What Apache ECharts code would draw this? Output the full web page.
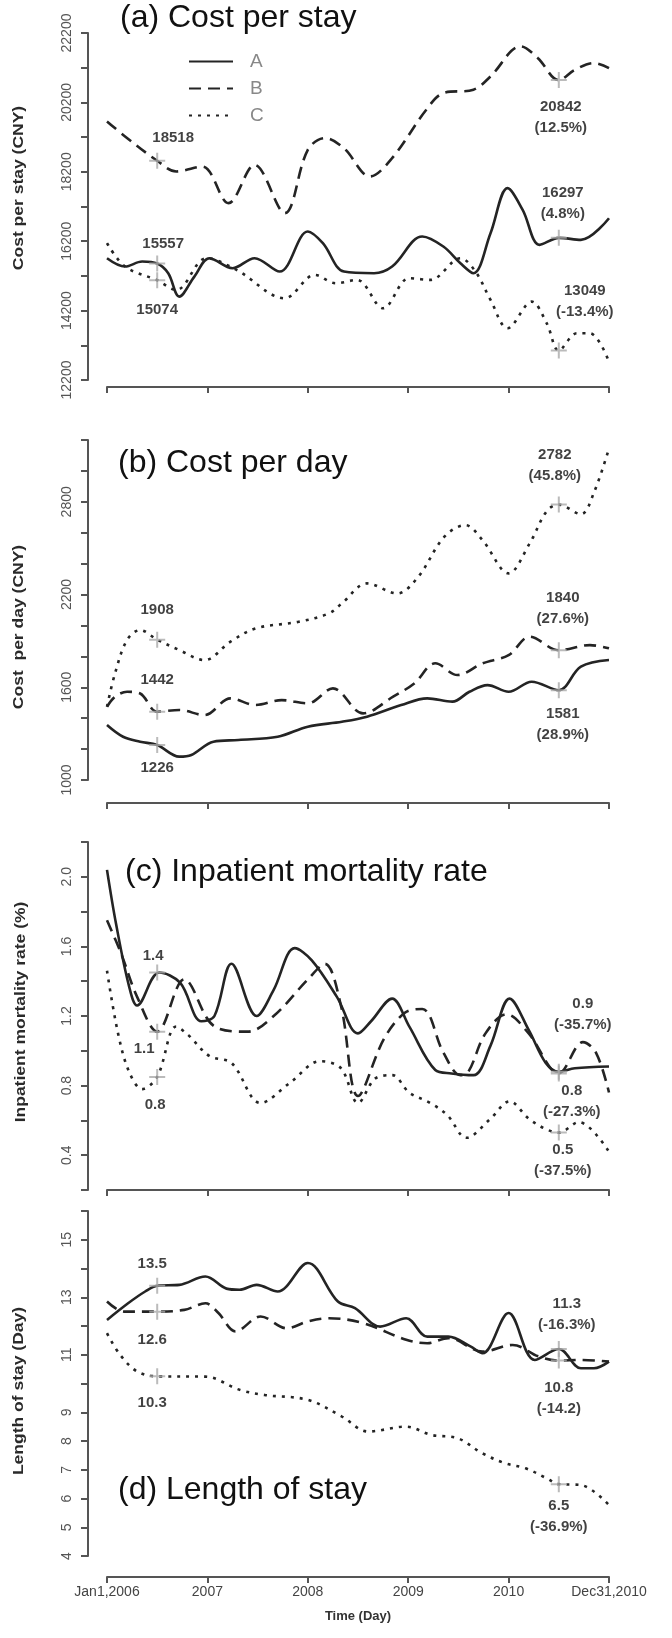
<!DOCTYPE html>
<html><head><meta charset="utf-8">
<script src="https://cdn.jsdelivr.net/npm/echarts@6/dist/echarts.min.js"></script>
<style>html,body{margin:0;padding:0;background:#fff}#c{width:672px;height:1638px}</style>
</head><body><div id="c"></div>
<script>
// ---------------- DATA ----------------
// x = decimal year (2006.0 = Jan 1, 2006; 2011.0 = Dec 31, 2010)
const xTickLabels = {2006: 'Jan1,2006', 2007: '2007', 2008: '2008', 2009: '2009', 2010: '2010', 2011: 'Dec31,2010'};
const seriesNames = ['A', 'B', 'C'];

// (a) Cost per stay (CNY)
const stayA = [[2006.0,15710],[2006.18,15470],[2006.35,15614],[2006.5,15557],[2006.61,15277],[2006.72,14604],[2006.87,15180],[2007.02,15710],[2007.25,15421],[2007.47,15710],[2007.72,15325],[2008.0,16479],[2008.15,16143],[2008.36,15325],[2008.66,15277],[2008.84,15470],[2009.14,16335],[2009.35,16046],[2009.52,15566],[2009.65,15277],[2009.82,16431],[2009.99,17729],[2010.14,17104],[2010.31,16095],[2010.5,16297],[2010.72,16239],[2011.0,16863]];
const stayB = [[2006.0,19652],[2006.18,19220],[2006.5,18518],[2006.69,18210],[2006.95,18350],[2007.21,17296],[2007.47,18400],[2007.77,17008],[2008.0,18835],[2008.17,19170],[2008.36,18880],[2008.62,18066],[2008.84,18594],[2009.18,19990],[2009.35,20470],[2009.65,20565],[2009.82,20950],[2010.12,21815],[2010.29,21480],[2010.5,20842],[2010.66,21140],[2010.85,21335],[2011.0,21190]];
const stayC = [[2006.0,16143],[2006.18,15470],[2006.5,15074],[2006.69,14797],[2006.99,15710],[2007.29,15373],[2007.77,14556],[2008.07,15229],[2008.28,14989],[2008.49,15085],[2008.75,14268],[2009.01,15133],[2009.22,15085],[2009.52,15710],[2009.67,15325],[2009.82,14508],[2009.99,13691],[2010.23,14460],[2010.38,13835],[2010.5,13049],[2010.68,13546],[2010.81,13546],[2011.0,12729]];
const stayTicks = [12200, 14200, 16200, 18200, 20200, 22200];

// (b) Cost per day (CNY)
const dayA = [[2006.0,1356],[2006.16,1280],[2006.33,1248],[2006.5,1226],[2006.72,1151],[2006.84,1162],[2007.06,1248],[2007.31,1259],[2007.7,1280],[2008.0,1345],[2008.34,1377],[2008.59,1410],[2008.93,1485],[2009.19,1528],[2009.44,1507],[2009.61,1571],[2009.79,1614],[2010.0,1571],[2010.23,1636],[2010.5,1581],[2010.72,1733],[2011.0,1776]];
const dayB = [[2006.0,1474],[2006.08,1539],[2006.2,1571],[2006.33,1560],[2006.5,1442],[2006.72,1453],[2006.97,1420],[2007.23,1528],[2007.48,1485],[2007.74,1517],[2008.0,1496],[2008.25,1593],[2008.55,1431],[2008.85,1539],[2009.06,1625],[2009.27,1755],[2009.49,1679],[2009.74,1755],[2010.0,1808],[2010.21,1927],[2010.5,1840],[2010.81,1873],[2011.0,1852]];
const dayC = [[2006.0,1474],[2006.08,1690],[2006.2,1906],[2006.33,1970],[2006.5,1908],[2006.72,1841],[2006.97,1776],[2007.23,1895],[2007.48,1981],[2007.91,2024],[2008.21,2078],[2008.34,2143],[2008.59,2272],[2008.89,2207],[2009.1,2315],[2009.36,2574],[2009.57,2649],[2009.74,2552],[2010.0,2337],[2010.21,2531],[2010.38,2740],[2010.5,2782],[2010.72,2720],[2010.85,2860],[2011.0,3145]];
const dayTicks = [1000, 1600, 2200, 2800];

// (c) Inpatient mortality rate (%)
const mortA = [[2006.0,2.04],[2006.09,1.73],[2006.22,1.37],[2006.3,1.26],[2006.52,1.45],[2006.73,1.39],[2006.94,1.17],[2007.07,1.20],[2007.24,1.50],[2007.49,1.20],[2007.66,1.35],[2007.87,1.59],[2008.04,1.52],[2008.29,1.31],[2008.5,1.10],[2008.63,1.17],[2008.84,1.30],[2009.01,1.14],[2009.27,0.89],[2009.43,0.87],[2009.65,0.86],[2009.82,1.03],[2010.01,1.30],[2010.2,1.12],[2010.37,0.93],[2010.5,0.88],[2010.66,0.90],[2011.0,0.91]];
const mortB = [[2006.0,1.75],[2006.14,1.56],[2006.3,1.31],[2006.5,1.11],[2006.77,1.41],[2007.07,1.14],[2007.4,1.11],[2007.66,1.20],[2008.0,1.41],[2008.17,1.50],[2008.33,1.26],[2008.5,0.74],[2008.76,1.07],[2008.97,1.22],[2009.14,1.24],[2009.35,0.99],[2009.52,0.86],[2009.6,0.88],[2009.77,1.10],[2009.98,1.21],[2010.2,1.10],[2010.5,0.87],[2010.74,1.05],[2010.87,0.99],[2011.0,0.76]];
const mortC = [[2006.0,1.46],[2006.11,1.10],[2006.22,0.88],[2006.35,0.78],[2006.5,0.85],[2006.69,1.14],[2006.81,1.09],[2007.02,0.97],[2007.24,0.93],[2007.53,0.70],[2007.83,0.82],[2008.12,0.94],[2008.33,0.90],[2008.5,0.70],[2008.67,0.84],[2008.84,0.86],[2009.01,0.76],[2009.22,0.70],[2009.39,0.63],[2009.58,0.50],[2009.82,0.61],[2010.01,0.71],[2010.2,0.61],[2010.37,0.55],[2010.5,0.53],[2010.7,0.59],[2011.0,0.42]];
const mortTicks = [0.4, 0.8, 1.2, 1.6, 2.0];

// (d) Length of stay (Day)
const losA = [[2006.0,12.21],[2006.21,12.79],[2006.38,13.2],[2006.5,13.4],[2006.72,13.43],[2006.98,13.72],[2007.19,13.3],[2007.32,13.26],[2007.49,13.43],[2007.7,13.2],[2008.0,14.19],[2008.3,12.85],[2008.47,12.62],[2008.72,11.98],[2008.98,12.27],[2009.19,11.63],[2009.4,11.63],[2009.62,11.29],[2009.74,11.05],[2010.0,12.45],[2010.26,10.82],[2010.5,11.2],[2010.72,10.53],[2010.85,10.53],[2011.0,10.76]];
const losB = [[2006.0,12.85],[2006.17,12.5],[2006.5,12.5],[2006.77,12.56],[2006.98,12.79],[2007.11,12.45],[2007.28,11.81],[2007.53,12.33],[2007.79,11.92],[2008.0,12.16],[2008.21,12.27],[2008.55,12.1],[2008.98,11.52],[2009.19,11.4],[2009.4,11.58],[2009.74,11.11],[2010.04,11.34],[2010.3,10.94],[2010.5,10.8],[2010.72,10.82],[2011.0,10.76]];
const losC = [[2006.0,11.75],[2006.13,11.0],[2006.3,10.42],[2006.5,10.25],[2006.98,10.24],[2007.32,9.78],[2007.57,9.6],[2008.0,9.43],[2008.34,8.85],[2008.6,8.33],[2008.98,8.5],[2009.23,8.21],[2009.49,8.1],[2009.74,7.57],[2009.96,7.23],[2010.17,7.05],[2010.38,6.7],[2010.5,6.5],[2010.72,6.47],[2011.0,5.77]];
const losTicks = [4, 5, 6, 7, 8, 9, 11, 13, 15];

// Highlighted points (+) at mid-2006 and mid-2010, with their annotation texts
const markX = [2006.5, 2010.5];
const markStayA = [15557, 16297], textStayA = ['15557', '16297\n(4.8%)'];
const markStayB = [18518, 20842], textStayB = ['18518', '20842\n(12.5%)'];
const markStayC = [15074, 13049], textStayC = ['15074', '13049\n(-13.4%)'];
const markDayA = [1226, 1581], textDayA = ['1226', '1581\n(28.9%)'];
const markDayB = [1442, 1840], textDayB = ['1442', '1840\n(27.6%)'];
const markDayC = [1908, 2782], textDayC = ['1908', '2782\n(45.8%)'];
const markMortA = [1.45, 0.88], textMortA = ['1.4', '0.9\n(-35.7%)'];
const markMortB = [1.11, 0.87], textMortB = ['1.1', '0.8\n(-27.3%)'];
const markMortC = [0.85, 0.53], textMortC = ['0.8', '0.5\n(-37.5%)'];
const markLosA = [13.4, 11.2], textLosA = ['13.5', '11.3\n(-16.3%)'];
const markLosB = [12.5, 10.8], textLosB = ['12.6', '10.8\n(-14.2)'];
const markLosC = [10.25, 6.5], textLosC = ['10.3', '6.5\n(-36.9%)'];

// ---------------- LAYOUT ----------------
const FONT = '"Liberation Sans", Arial, sans-serif';
const INK = '#242424';
const panels = [
  {title: '(a) Cost per stay', yName: 'Cost per stay (CNY)', top: 33, height: 347, xOff: 7, yMin: 12200, yMax: 22200, yInt: 1000, ticks: stayTicks, dec: 0,
   titlePos: [120, 18], namePos: [19, 188],
   lines: [stayA, stayB, stayC],
   marks: [[markStayA, textStayA, [[6,-20],[4,-34]]], [markStayB, textStayB, [[16,-23],[2,37]]], [markStayC, textStayC, [[0,30],[26,-49]]]]},
  {title: '(b) Cost per day', yName: 'Cost  per day (CNY)', top: 440, height: 340, xOff: 23, yMin: 1000, yMax: 3200, yInt: 200, ticks: dayTicks, dec: 0,
   titlePos: [118, 463], namePos: [19, 627],
   lines: [dayA, dayB, dayC],
   marks: [[markDayA, textDayA, [[0,23],[4,34]]], [markDayB, textDayB, [[0,-32],[4,-42]]], [markDayC, textDayC, [[0,-30],[-4,-39]]]]},
  {title: '(c) Inpatient mortality rate', yName: 'Inpatient mortality rate (%)', top: 842, height: 348, xOff: 0, yMin: 0.2, yMax: 2.2, yInt: 0.2, ticks: mortTicks, dec: 1,
   titlePos: [125, 872], namePos: [21, 1012],
   lines: [mortA, mortB, mortC],
   marks: [[markMortA, textMortA, [[-4,-17],[24,-57]]], [markMortB, textMortB, [[-13,17],[13,28]]], [markMortC, textMortC, [[-2,28],[4,28]]]]},
  {title: '(d) Length of stay', yName: 'Length of stay (Day)', top: 1211, height: 345, xOff: 21, yMin: 4, yMax: 16, yInt: 1, ticks: losTicks, dec: 0,
   titlePos: [118, 1490], namePos: [19, 1391],
   lines: [losA, losB, losC],
   marks: [[markLosA, textLosA, [[-5,-22],[8,-35]]], [markLosB, textLosB, [[-5,28],[0,38]]], [markLosC, textLosC, [[-5,27],[0,32]]]]}
];
const dashTypes = ['solid', [12, 7], [3, 6]];
const PLUS = 'path://M7,0H9V16H7ZM0,7H16V9H0Z';

const grid = panels.map(p => ({left: 107, right: 63, top: p.top, height: p.height}));
const xAxis = panels.map((p, i) => ({
  type: 'value', gridIndex: i, min: 2006, max: 2011, interval: 1, offset: p.xOff,
  axisLine: {show: true, onZero: false, lineStyle: {color: '#555', width: 2}},
  axisTick: {show: true, length: 6, lineStyle: {color: '#555', width: 2}},
  axisLabel: {show: i === 3, formatter: v => xTickLabels[Math.round(v)] || '', color: '#444', fontSize: 14, fontFamily: FONT, margin: 8, showMinLabel: true, showMaxLabel: true, hideOverlap: false},
  splitLine: {show: false},
  name: i === 3 ? 'Time (Day)' : '', nameLocation: 'middle', nameGap: 33,
  nameTextStyle: {fontSize: 13, fontWeight: 'bold', color: '#333', fontFamily: FONT}
}));
const yAxis = panels.map((p, i) => ({
  type: 'value', gridIndex: i, min: p.yMin, max: p.yMax, interval: p.yInt, offset: 19,
  axisLine: {show: true, onZero: false, lineStyle: {color: '#555', width: 2}},
  axisTick: {show: true, length: 7, lineStyle: {color: '#555', width: 2}},
  axisLabel: {rotate: 90, margin: 14, fontSize: 14, color: '#555', fontFamily: FONT, showMinLabel: true, showMaxLabel: true, hideOverlap: false,
    formatter: v => p.ticks.some(t => Math.abs(t - v) < 1e-6) ? v.toFixed(p.dec) : ''},
  splitLine: {show: false}
}));

const series = [];
panels.forEach((p, gi) => {
  p.lines.forEach((d, k) => {
    series.push({type: 'line', name: seriesNames[k], data: d, xAxisIndex: gi, yAxisIndex: gi,
      smooth: 0.35, symbol: 'none', silent: true, z: 2,
      itemStyle: {color: INK},
      lineStyle: {color: INK, width: 2.6, type: dashTypes[k]}});
  });
  const items = [];
  p.marks.forEach(([vals, texts, offs]) => {
    vals.forEach((v, j) => items.push({
      value: [markX[j], v],
      label: {show: true, formatter: texts[j], offset: offs[j], position: 'inside'}
    }));
  });
  series.push({type: 'scatter', name: 'marks' + gi, xAxisIndex: gi, yAxisIndex: gi, symbol: PLUS, symbolSize: 16, z: 5, silent: true,
    itemStyle: {color: '#aaa'}, data: items,
    label: {fontSize: 15, fontWeight: 'bold', color: '#111', lineHeight: 21, fontFamily: FONT}});
});

const graphic = [];
panels.forEach(p => {
  graphic.push({type: 'text', x: p.titlePos[0], y: p.titlePos[1], silent: true,
    style: {text: p.title, font: 'normal 32px ' + FONT, fill: '#111', textVerticalAlign: 'middle'}});
  graphic.push({type: 'text', x: p.namePos[0], y: p.namePos[1], rotation: Math.PI / 2, scaleX: 1.25, silent: true,
    style: {text: p.yName, font: 'bold 14px ' + FONT, fill: '#2a2a2a', textAlign: 'center', textVerticalAlign: 'middle'}});
});

const chart = echarts.init(document.getElementById('c'), null, {renderer: 'canvas'});
chart.setOption({
  animation: false,
  backgroundColor: '#fff',
  grid, xAxis, yAxis, series, graphic,
  legend: {data: seriesNames, orient: 'vertical', left: 183, top: 47, itemWidth: 44, itemHeight: 16, itemGap: 8,
    selectedMode: false, itemStyle: {opacity: 0},
    textStyle: {fontSize: 19, color: '#888', fontFamily: FONT, padding: [0, 0, 0, 12]}}
});
</script></body></html>
